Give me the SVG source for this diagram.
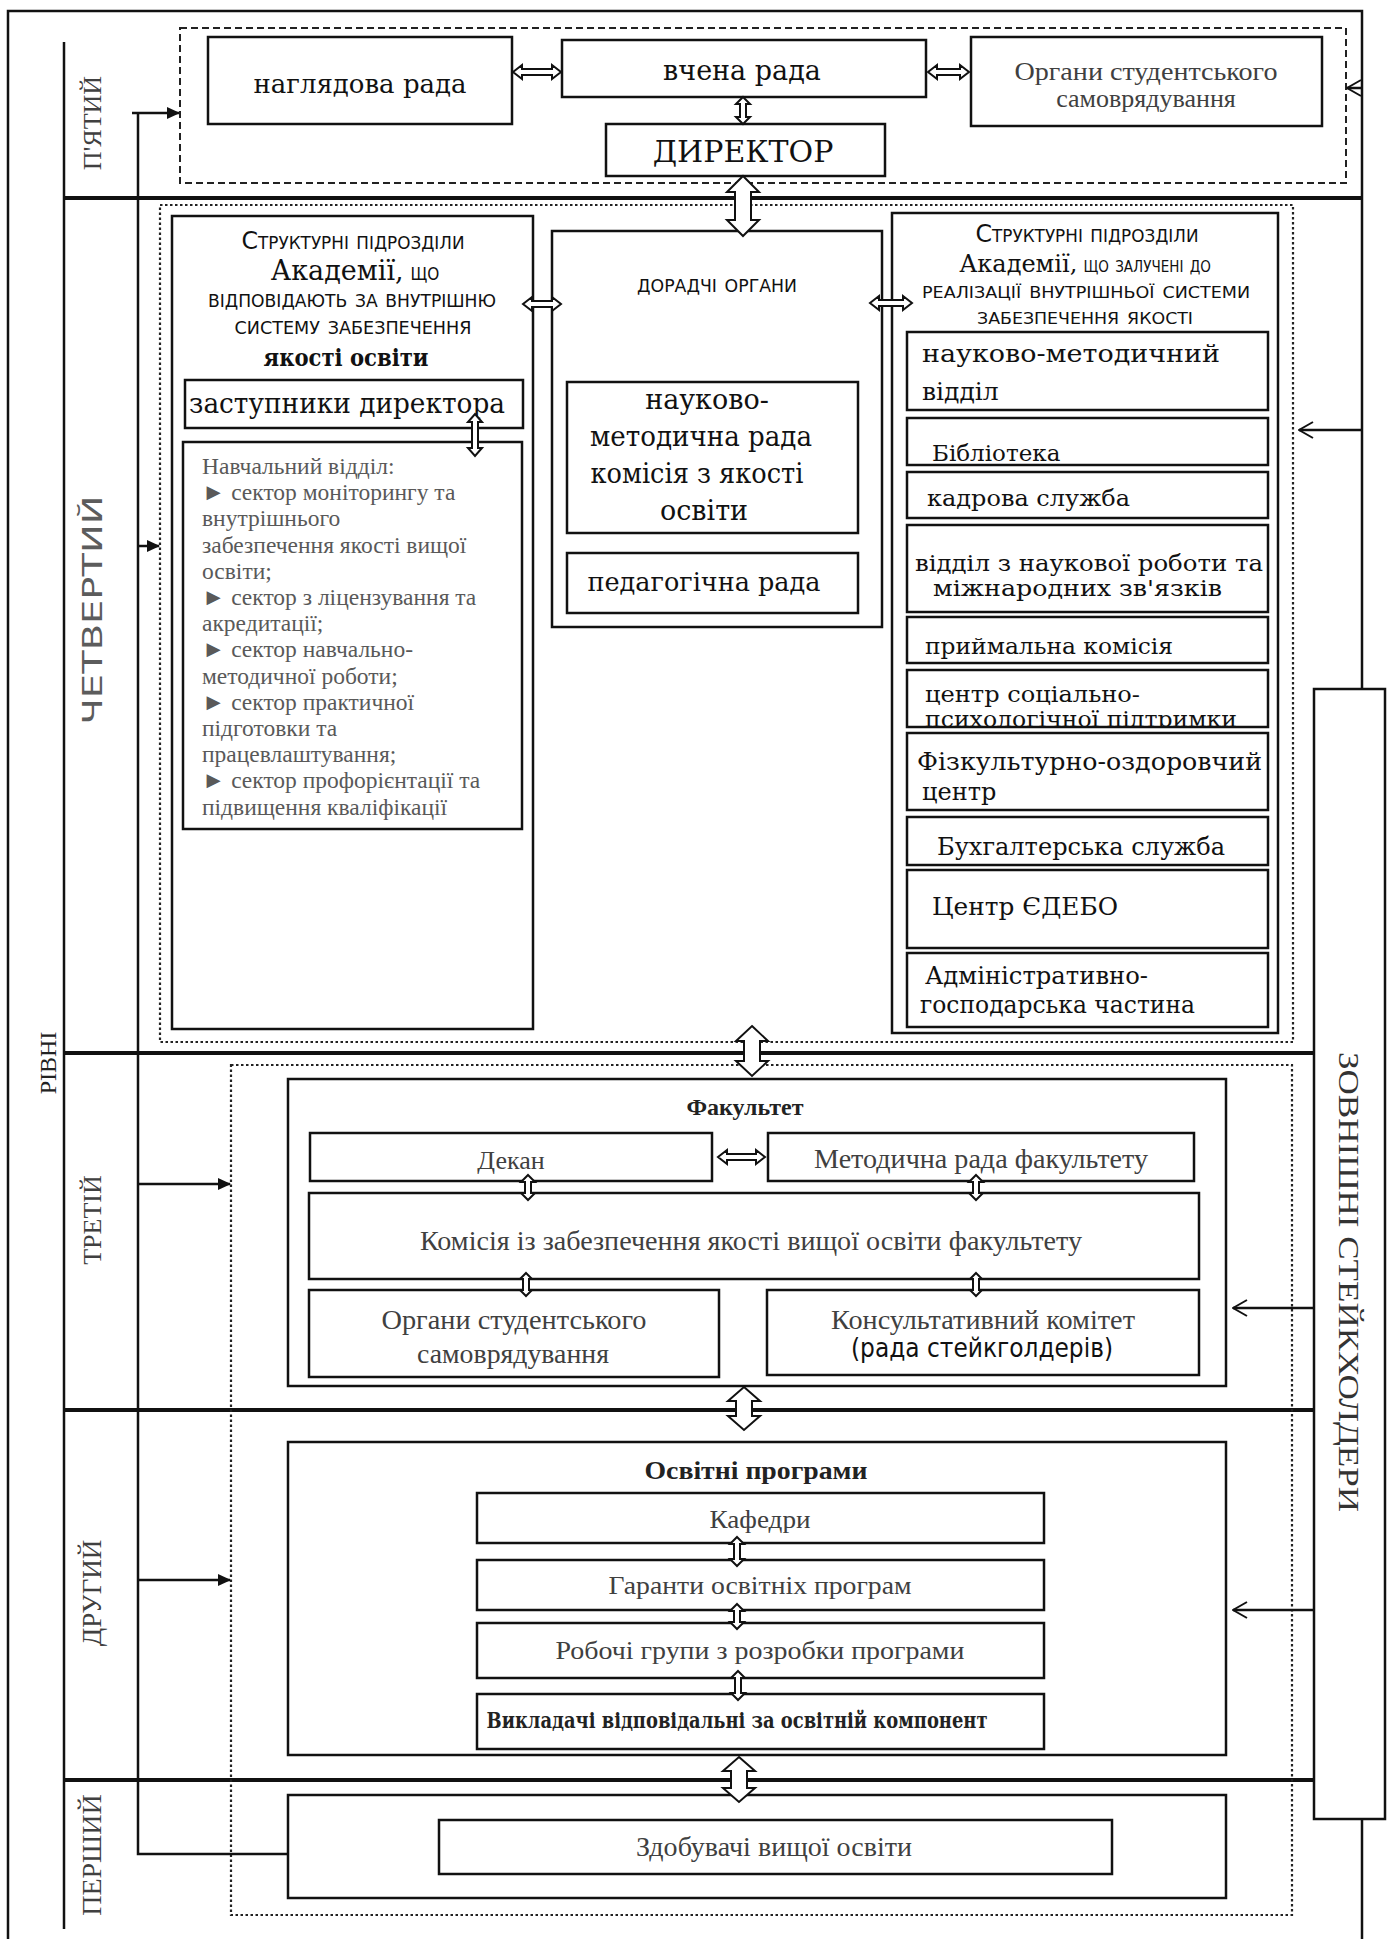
<svg xmlns="http://www.w3.org/2000/svg" width="1392" height="1939" viewBox="0 0 1392 1939">
<defs>
<style>
.box{fill:#fff;stroke:#111;stroke-width:2.5}
.dash{fill:none;stroke:#222;stroke-width:2;stroke-dasharray:7 4}
.dot{fill:none;stroke:#222;stroke-width:2.2;stroke-dasharray:2.5 2.5}
.ln{fill:none;stroke:#111;stroke-width:2.5}
.lvl{fill:none;stroke:#111;stroke-width:4}
.dbl{fill:#fff;stroke:#111;stroke-width:2}
.bs{font-family:"DejaVu Serif","Liberation Serif",serif;fill:#111}
.gs{font-family:"Liberation Serif","DejaVu Serif",serif;fill:#404040}
.sc{font-family:"DejaVu Sans Condensed","Liberation Sans Narrow","DejaVu Sans",sans-serif;font-variant:small-caps;fill:#111}
.nw{font-family:"DejaVu Sans Condensed","Liberation Sans Narrow",sans-serif;fill:#111}
.c{text-anchor:middle}
</style>
<marker id="fa" markerWidth="13" markerHeight="12" refX="12" refY="6" orient="auto" markerUnits="userSpaceOnUse"><path d="M0,0 L13,6 L0,12 Z" fill="#111"/></marker>
<marker id="oa" markerWidth="16" markerHeight="18" refX="15" refY="9" orient="auto" markerUnits="userSpaceOnUse"><path d="M1,1 L15,9 L1,17" fill="none" stroke="#111" stroke-width="2"/></marker>
<clipPath id="clipBib"><rect x="907" y="418" width="361" height="46"/></clipPath>
<clipPath id="clipPsy"><rect x="907" y="670" width="361" height="57"/></clipPath>
</defs>
<rect width="1392" height="1939" fill="#fff"/>

<g id="frame">
<path class="ln" d="M8,1939 V11 H1362 V689"/>
<path class="ln" d="M1362,1819 V1939"/>
<path class="ln" d="M64,42 V1929"/>
<path class="lvl" d="M64,198 H1362"/>
<path class="lvl" d="M64,1053 H1313"/>
<path class="lvl" d="M64,1410 H1313"/>
<path class="lvl" d="M64,1780 H1313"/>
<rect class="dash" x="180" y="28" width="1166" height="155"/>
<rect class="dot" x="160" y="205" width="1133" height="837"/>
<rect class="dot" x="231" y="1065" width="1061" height="850"/>
</g>

<g id="levels">
<text class="gs" font-size="24" style="fill:#222" transform="translate(56,1063) rotate(-90)" text-anchor="middle">РІВНІ</text>
<text class="gs" font-size="26" transform="translate(101,123) rotate(-90)" text-anchor="middle">П'ЯТИЙ</text>
<text class="nw" font-size="27" style="fill:#5c5c5c" transform="translate(102,610) rotate(-90)" text-anchor="middle" textLength="229" lengthAdjust="spacingAndGlyphs">ЧЕТВЕРТИЙ</text>
<text class="gs" font-size="26" transform="translate(101,1220) rotate(-90)" text-anchor="middle">ТРЕТІЙ</text>
<text class="gs" font-size="27" transform="translate(101,1593) rotate(-90)" text-anchor="middle">ДРУГИЙ</text>
<text class="gs" font-size="28" transform="translate(101,1855) rotate(-90)" text-anchor="middle">ПЕРШИЙ</text>
</g>

<g id="stakeholders">
<rect class="box" x="1314" y="689" width="71" height="1130"/>
<text class="gs" font-size="30" style="fill:#333" transform="translate(1339,1282) rotate(90)" text-anchor="middle" textLength="460" lengthAdjust="spacingAndGlyphs">ЗОВНІШНІ СТЕЙКХОЛДЕРИ</text>
</g>

<g id="n-naglyadova">
<rect class="box" x="208" y="37" width="304" height="87"/>
<text class="bs c" x="360" y="93" font-size="26">наглядова рада</text>
</g>
<g id="n-vchena">
<rect class="box" x="562" y="40" width="364" height="57"/>
<text class="bs c" x="742" y="80" font-size="27">вчена рада</text>
</g>
<g id="n-director">
<rect class="box" x="606" y="124" width="279" height="52"/>
<text class="bs c" x="743" y="162" font-size="30">ДИРЕКТОР</text>
</g>
<g id="n-organy-top">
<rect class="box" x="971" y="37" width="351" height="89"/>
<text class="gs c" x="1146" y="80" font-size="26" textLength="263" lengthAdjust="spacingAndGlyphs">Органи студентського</text>
<text class="gs c" x="1146" y="107" font-size="26">самоврядування</text>
</g>

<g id="n-left4">
<rect class="box" x="172" y="216" width="361" height="813"/>
<text class="sc c" x="353" y="249" font-size="24" textLength="223" lengthAdjust="spacingAndGlyphs">Структурні підрозділи</text>
<text class="c" x="355" y="280"><tspan class="bs" font-size="27">Академії,</tspan><tspan class="sc" font-size="24"> що</tspan></text>
<text class="sc c" x="352" y="307" font-size="24" textLength="288" lengthAdjust="spacingAndGlyphs">відповідають за внутрішню</text>
<text class="sc c" x="353" y="334" font-size="24" textLength="237" lengthAdjust="spacingAndGlyphs">систему забезпечення</text>
<text class="bs c" x="346" y="366" font-size="25" font-weight="bold" textLength="165" lengthAdjust="spacingAndGlyphs">якості освіти</text>
</g>
<g id="n-zastupnyky">
<rect class="box" x="185" y="380" width="338" height="48"/>
<text class="bs" x="189" y="413" font-size="27" textLength="316" lengthAdjust="spacingAndGlyphs">заступники директора</text>
</g>
<g id="n-navchalnyi">
<rect class="box" x="183" y="442" width="339" height="387"/>
<g class="gs" font-size="23.5" style="fill:#595959">
<text x="202" y="474">Навчальний відділ:</text>
<text x="202" y="500">► сектор моніторингу та</text>
<text x="202" y="526">внутрішнього</text>
<text x="202" y="553">забезпечення якості вищої</text>
<text x="202" y="579">освіти;</text>
<text x="202" y="605">► сектор з ліцензування та</text>
<text x="202" y="631">акредитації;</text>
<text x="202" y="657">► сектор навчально-</text>
<text x="202" y="684">методичної роботи;</text>
<text x="202" y="710">► сектор практичної</text>
<text x="202" y="736">підготовки та</text>
<text x="202" y="762">працевлаштування;</text>
<text x="202" y="788">► сектор профорієнтації та</text>
<text x="202" y="815">підвищення кваліфікації</text>
</g>
</g>

<g id="n-doradchi">
<rect class="box" x="552" y="231" width="330" height="396"/>
<text class="sc c" x="717" y="292" font-size="24" textLength="160" lengthAdjust="spacingAndGlyphs">дорадчі органи</text>
</g>
<g id="n-nmr">
<rect class="box" x="567" y="382" width="291" height="151"/>
<text class="bs c" x="707" y="409" font-size="27">науково-</text>
<text class="bs c" x="701" y="446" font-size="27" textLength="222" lengthAdjust="spacingAndGlyphs">методична рада</text>
<text class="bs c" x="697" y="483" font-size="27" textLength="213" lengthAdjust="spacingAndGlyphs">комісія з якості</text>
<text class="bs c" x="704" y="520" font-size="27">освіти</text>
</g>
<g id="n-pedrada">
<rect class="box" x="567" y="553" width="291" height="60"/>
<text class="bs c" x="704" y="591" font-size="26" textLength="233" lengthAdjust="spacingAndGlyphs">педагогічна рада</text>
</g>

<g id="n-right4">
<rect class="box" x="892" y="213" width="386" height="820"/>
<text class="sc c" x="1087" y="242" font-size="24" textLength="223" lengthAdjust="spacingAndGlyphs">Структурні підрозділи</text>
<text class="c" x="1085" y="272"><tspan class="bs" font-size="24">Академії,</tspan><tspan class="sc" font-size="22"> що залучені до</tspan></text>
<text class="sc c" x="1086" y="298" font-size="23" textLength="328" lengthAdjust="spacingAndGlyphs">реалізації внутрішньої системи</text>
<text class="sc c" x="1085" y="324" font-size="23" textLength="216" lengthAdjust="spacingAndGlyphs">забезпечення якості</text>
</g>
<g id="n-nmv">
<rect class="box" x="907" y="332" width="361" height="78"/>
<text class="bs" x="922" y="362" font-size="25" textLength="298" lengthAdjust="spacingAndGlyphs">науково-методичний</text>
<text class="bs" x="922" y="400" font-size="25">відділ</text>
</g>
<g id="n-biblioteka">
<rect class="box" x="907" y="418" width="361" height="47"/>
<text class="bs" x="932" y="461" font-size="23" clip-path="url(#clipBib)">Бібліотека</text>
</g>
<g id="n-kadrova">
<rect class="box" x="907" y="472" width="361" height="46"/>
<text class="bs" x="927" y="506" font-size="23" textLength="203" lengthAdjust="spacingAndGlyphs">кадрова служба</text>
</g>
<g id="n-naukova">
<rect class="box" x="907" y="525" width="361" height="87"/>
<text class="bs" x="915" y="571" font-size="22" textLength="348" lengthAdjust="spacingAndGlyphs">відділ з наукової роботи та</text>
<text class="bs" x="933" y="596" font-size="22" textLength="289" lengthAdjust="spacingAndGlyphs">міжнародних зв'язків</text>
</g>
<g id="n-pryimalna">
<rect class="box" x="907" y="617" width="361" height="46"/>
<text class="bs" x="925" y="654" font-size="23" textLength="248" lengthAdjust="spacingAndGlyphs">приймальна комісія</text>
</g>
<g id="n-psych">
<rect class="box" x="907" y="670" width="361" height="57"/>
<text class="bs" x="925" y="702" font-size="23" textLength="215" lengthAdjust="spacingAndGlyphs">центр соціально-</text>
<text class="bs" x="925" y="727" font-size="23" textLength="312" lengthAdjust="spacingAndGlyphs" clip-path="url(#clipPsy)">психологічної підтримки</text>
</g>
<g id="n-fiz">
<rect class="box" x="907" y="733" width="361" height="77"/>
<text class="bs" x="917" y="770" font-size="24" textLength="345" lengthAdjust="spacingAndGlyphs">Фізкультурно-оздоровчий</text>
<text class="bs" x="922" y="800" font-size="24">центр</text>
</g>
<g id="n-buh">
<rect class="box" x="907" y="817" width="361" height="48"/>
<text class="bs" x="937" y="855" font-size="24" textLength="288" lengthAdjust="spacingAndGlyphs">Бухгалтерська служба</text>
</g>
<g id="n-edebo">
<rect class="box" x="907" y="870" width="361" height="78"/>
<text class="bs" x="932" y="915" font-size="24" textLength="186" lengthAdjust="spacingAndGlyphs">Центр ЄДЕБО</text>
</g>
<g id="n-ahch">
<rect class="box" x="907" y="953" width="361" height="74"/>
<text class="bs" x="925" y="984" font-size="24" textLength="223" lengthAdjust="spacingAndGlyphs">Адміністративно-</text>
<text class="bs" x="920" y="1013" font-size="24" textLength="275" lengthAdjust="spacingAndGlyphs">господарська частина</text>
</g>

<g id="n-faculty">
<rect class="box" x="288" y="1079" width="938" height="307"/>
<text class="gs c" x="745" y="1115" font-size="24" font-weight="bold" style="fill:#222">Факультет</text>
</g>
<g id="n-dekan">
<rect class="box" x="310" y="1133" width="402" height="48"/>
<text class="gs c" x="511" y="1169" font-size="26">Декан</text>
</g>
<g id="n-metodrada">
<rect class="box" x="768" y="1133" width="426" height="48"/>
<text class="gs c" x="981" y="1168" font-size="27" textLength="334" lengthAdjust="spacingAndGlyphs">Методична рада факультету</text>
</g>
<g id="n-komisiya">
<rect class="box" x="309" y="1193" width="890" height="86"/>
<text class="gs c" x="751" y="1250" font-size="27" textLength="662" lengthAdjust="spacingAndGlyphs">Комісія із забезпечення якості вищої освіти факультету</text>
</g>
<g id="n-organy-fac">
<rect class="box" x="309" y="1290" width="410" height="87"/>
<text class="gs c" x="514" y="1329" font-size="27" textLength="265" lengthAdjust="spacingAndGlyphs">Органи студентського</text>
<text class="gs c" x="513" y="1363" font-size="27" textLength="192" lengthAdjust="spacingAndGlyphs">самоврядування</text>
</g>
<g id="n-konsult">
<rect class="box" x="767" y="1290" width="432" height="85"/>
<text class="gs c" x="983" y="1329" font-size="27" textLength="304" lengthAdjust="spacingAndGlyphs">Консультативний комітет</text>
<text class="nw c" x="982" y="1357" font-size="27" textLength="262" lengthAdjust="spacingAndGlyphs">(рада стейкголдерів)</text>
</g>

<g id="n-osvitni">
<rect class="box" x="288" y="1442" width="938" height="313"/>
<text class="gs c" x="756" y="1479" font-size="25" font-weight="bold" style="fill:#222" textLength="223" lengthAdjust="spacingAndGlyphs">Освітні програми</text>
</g>
<g id="n-kafedry">
<rect class="box" x="477" y="1493" width="567" height="50"/>
<text class="gs c" x="760" y="1528" font-size="26" textLength="101" lengthAdjust="spacingAndGlyphs">Кафедри</text>
</g>
<g id="n-garanty">
<rect class="box" x="477" y="1560" width="567" height="50"/>
<text class="gs c" x="760" y="1594" font-size="26" textLength="303" lengthAdjust="spacingAndGlyphs">Гаранти освітніх програм</text>
</g>
<g id="n-robochi">
<rect class="box" x="477" y="1623" width="567" height="55"/>
<text class="gs c" x="760" y="1659" font-size="26" textLength="409" lengthAdjust="spacingAndGlyphs">Робочі групи з розробки програми</text>
</g>
<g id="n-vykladachi">
<rect class="box" x="477" y="1694" width="567" height="55"/>
<text class="bs c" x="737" y="1728" font-size="23" font-weight="bold" style="fill:#222" textLength="501" lengthAdjust="spacingAndGlyphs">Викладачі відповідальні за освітній компонент</text>
</g>

<g id="n-zdobuvachi-outer">
<rect class="box" x="288" y="1795" width="938" height="103"/>
</g>
<g id="n-zdobuvachi">
<rect class="box" x="439" y="1820" width="673" height="54"/>
<text class="gs c" x="774" y="1856" font-size="27" textLength="276" lengthAdjust="spacingAndGlyphs">Здобувачі вищої освіти</text>
</g>

<g id="connectors">
<path class="ln" d="M138,113 V1854 H288"/>
<path class="ln" d="M132,113 H179" marker-end="url(#fa)"/>
<path class="ln" d="M138,546 H159" marker-end="url(#fa)"/>
<path class="ln" d="M138,1184 H230" marker-end="url(#fa)"/>
<path class="ln" d="M138,1580 H230" marker-end="url(#fa)"/>
<path class="ln" d="M1362,88 H1347" marker-end="url(#oa)"/>
<path class="ln" d="M1362,430 H1299" marker-end="url(#oa)"/>
<path class="ln" d="M1314,1308 H1233" marker-end="url(#oa)"/>
<path class="ln" d="M1314,1610 H1233" marker-end="url(#oa)"/>
<polygon class="dbl" points="743,176 759,192 751,192 751,220 759,220 743,236 727,220 735,220 735,192 727,192"/>
<polygon class="dbl" points="752,1026 768,1041 760,1041 760,1061 768,1061 752,1076 736,1061 744,1061 744,1041 736,1041"/>
<polygon class="dbl" points="744,1387 760,1401 752,1401 752,1416 760,1416 744,1430 728,1416 736,1416 736,1401 728,1401"/>
<polygon class="dbl" points="739,1757 755,1771 747,1771 747,1788 755,1788 739,1802 723,1788 731,1788 731,1771 723,1771"/>
<polygon class="dbl" points="743,97 750,104 746,104 746,117 750,117 743,124 736,117 740,117 740,104 736,104"/>
<polygon class="dbl" points="475,414 482,422 478,422 478,448 482,448 475,456 468,448 472,448 472,422 468,422"/>
<polygon class="dbl" points="528,1175 535,1182 531,1182 531,1193 535,1193 528,1200 521,1193 525,1193 525,1182 521,1182"/>
<polygon class="dbl" points="976,1175 983,1182 979,1182 979,1193 983,1193 976,1200 969,1193 973,1193 973,1182 969,1182"/>
<polygon class="dbl" points="526,1273 532,1279 529,1279 529,1290 532,1290 526,1296 520,1290 523,1290 523,1279 520,1279"/>
<polygon class="dbl" points="976,1273 982,1279 979,1279 979,1290 982,1290 976,1296 970,1290 973,1290 973,1279 970,1279"/>
<polygon class="dbl" points="737,1537 744,1544 740,1544 740,1559 744,1559 737,1566 730,1559 734,1559 734,1544 730,1544"/>
<polygon class="dbl" points="737,1604 744,1611 740,1611 740,1622 744,1622 737,1629 730,1622 734,1622 734,1611 730,1611"/>
<polygon class="dbl" points="738,1671 745,1678 741,1678 741,1693 745,1693 738,1700 731,1693 735,1693 735,1678 731,1678"/>
<polygon class="dbl" points="513,72 522,65 522,69 552,69 552,65 561,72 552,79 552,75 522,75 522,79"/>
<polygon class="dbl" points="928,72 937,65 937,69 960,69 960,65 969,72 960,79 960,75 937,75 937,79"/>
<polygon class="dbl" points="523,304 532,297 532,301 552,301 552,297 561,304 552,311 552,307 532,307 532,311"/>
<polygon class="dbl" points="870,303 879,296 879,300 903,300 903,296 912,303 903,310 903,306 879,306 879,310"/>
<polygon class="dbl" points="718,1157 727,1150 727,1154 756,1154 756,1150 765,1157 756,1164 756,1160 727,1160 727,1164"/>
</g>
</svg>
